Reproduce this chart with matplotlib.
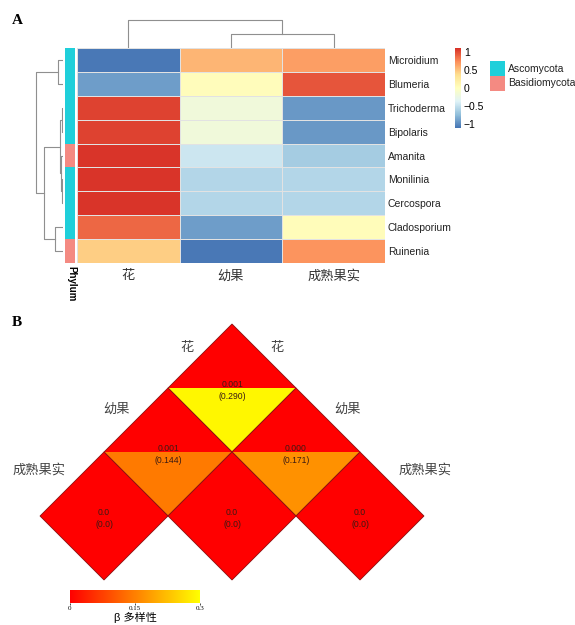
import numpy as np
import matplotlib
matplotlib.use('Agg')
import matplotlib.pyplot as plt
from matplotlib.colors import LinearSegmentedColormap, Normalize
from matplotlib.patches import Polygon, Rectangle
from matplotlib.cm import ScalarMappable

plt.rcParams['font.family'] = ['Liberation Sans', 'Noto Sans CJK SC', 'DejaVu Sans']

# ---- panel A data ----
taxa = ['Microidium', 'Blumeria', 'Trichoderma', 'Bipolaris', 'Amanita',
        'Monilinia', 'Cercospora', 'Cladosporium', 'Ruinenia']
stages = ['花', '幼果', '成熟果实']
phylum = ['Ascomycota', 'Ascomycota', 'Ascomycota', 'Ascomycota', 'Basidiomycota',
          'Ascomycota', 'Ascomycota', 'Ascomycota', 'Basidiomycota']
phylum_names = ['Ascomycota', 'Basidiomycota']
phylum_colors = ['#1FCFDA', '#F48A82']

values = np.array([
    [-1.08, 0.55, 0.66],
    [-0.90, 0.03, 0.95],
    [1.03, -0.18, -0.92],
    [1.03, -0.18, -0.92],
    [1.08, -0.46, -0.64],
    [1.08, -0.57, -0.57],
    [1.08, -0.57, -0.57],
    [0.88, -0.90, 0.04],
    [0.44, -1.08, 0.70],
])

# dendrogram merges: (left cluster, right cluster, height)
row_merges = [(2, 3, 1.0), (5, 6, 0.8), (4, 10, 1.6), (9, 11, 3.0),
              (0, 1, 5.0), (7, 8, 8.0), (12, 14, 19.0), (13, 15, 27.0)]
col_merges = [(1, 2, 14.0), (0, 3, 28.0)]

# ---- panel B data ----
group_names = ['花', '幼果', '成熟果实']
p_vals = [[0.001], [0.001, 0.000], [0.0, 0.0, 0.0]]
p_text = [['0.001'], ['0.001', '0.000'], ['0.0', '0.0', '0.0']]
beta_vals = [[0.290], [0.144, 0.171], [0.0, 0.0, 0.0]]
beta_text = [['(0.290)'], ['(0.144)', '(0.171)'], ['(0.0)', '(0.0)', '(0.0)']]

W, H = 575, 625
fig = plt.figure(figsize=(W / 100, H / 100), dpi=100)


def px_axes(l, t, r, b):
    return fig.add_axes([l / W, 1 - b / H, (r - l) / W, (b - t) / H])


def draw_dendro(ax, merges, n, orient):
    pos = {i: i + 0.5 for i in range(n)}
    hgt = {i: 0.0 for i in range(n)}
    for k, (a, b, h) in enumerate(merges):
        p = [pos[a], pos[a], pos[b], pos[b]]
        hh = [hgt[a], h, h, hgt[b]]
        if orient == 'top':
            ax.plot(p, hh, color='#8f8f8f', lw=0.8)
        else:
            ax.plot(hh, p, color='#8f8f8f', lw=0.8)
        pos[n + k] = (pos[a] + pos[b]) / 2
        hgt[n + k] = h
    ax.axis('off')


# heatmap
pal = ['#4575B4', '#91BFDB', '#E0F3F8', '#FFFFBF', '#FEE090', '#FC8D59', '#D73027']
cmap = LinearSegmentedColormap.from_list('rdylbu', pal)
norm = Normalize(-1.1, 1.1)

ax_h = px_axes(77, 48, 385, 263)
ax_h.pcolormesh(values, cmap=cmap, norm=norm, edgecolors='#e2e2e2', linewidth=0.4)
ax_h.set_xlim(0, 3)
ax_h.set_ylim(len(taxa), 0)
ax_h.set_xticks(np.arange(len(stages)) + 0.5)
ax_h.set_xticklabels(stages, fontsize=9.5, color='#333333')
ax_h.set_yticks(np.arange(len(taxa)) + 0.5)
ax_h.set_yticklabels(taxa, fontsize=7.5, color='#222222')
ax_h.yaxis.tick_right()
ax_h.tick_params(length=0, pad=2)
ax_h.tick_params(axis='x', pad=5)
for s in ax_h.spines.values():
    s.set_visible(False)

# phylum annotation bar
ax_a = px_axes(65, 48, 75, 263)
for i, ph in enumerate(phylum):
    ax_a.add_patch(Rectangle((0, i), 1, 1, facecolor=phylum_colors[phylum_names.index(ph)],
                             edgecolor='none'))
ax_a.set_xlim(0, 1)
ax_a.set_ylim(len(phylum), 0)
ax_a.axis('off')
fig.text(71 / W, 1 - 266 / H, 'Phylum', rotation=270, ha='center', va='top',
         fontsize=7, fontweight='bold')

# dendrograms
ax_rd = px_axes(33, 48, 63, 263)
draw_dendro(ax_rd, row_merges, len(taxa), 'left')
ax_rd.set_xlim(30, 0)
ax_rd.set_ylim(len(taxa), 0)

ax_cd = px_axes(77, 18, 385, 48)
draw_dendro(ax_cd, col_merges, len(stages), 'top')
ax_cd.set_xlim(0, 3)
ax_cd.set_ylim(0, 30)

# colour key
cax = px_axes(455, 48, 461, 128)
cb = fig.colorbar(ScalarMappable(norm=norm, cmap=cmap), cax=cax, ticks=[-1, -0.5, 0, 0.5, 1])
cb.ax.set_yticklabels(['\u22121', '\u22120.5', '0', '0.5', '1'])
cb.ax.tick_params(length=0, labelsize=7.5, pad=2)
cb.outline.set_visible(False)

# phylum legend
ax_l = px_axes(488, 58, 575, 95)
for i, (name, col) in enumerate(zip(phylum_names, phylum_colors)):
    ax_l.add_patch(Rectangle((2, 3 + i * 15), 15, 15, facecolor=col, edgecolor='none'))
    ax_l.text(20, 10.5 + i * 15, name, fontsize=7.5, va='center', ha='left', color='#222222')
ax_l.set_xlim(0, 87)
ax_l.set_ylim(37, 0)
ax_l.axis('off')

fig.text(12 / W, 1 - 20 / H, 'A', fontsize=11, fontweight='bold', family='Liberation Serif',
         va='center', ha='left')

# ---- panel B ----
bmap = LinearSegmentedColormap.from_list('ry', ['#FF0000', '#FFFF00'])
bnorm = Normalize(0, 0.3)

ax_b = px_axes(8, 320, 456, 592)
for r in range(len(group_names)):
    for k in range(r + 1):
        cx, cy = 2 * k - r, -r
        ax_b.add_patch(Polygon([(cx - 1, cy), (cx, cy + 1), (cx + 1, cy)], closed=True,
                               facecolor=bmap(bnorm(p_vals[r][k])), edgecolor='none'))
        ax_b.add_patch(Polygon([(cx - 1, cy), (cx + 1, cy), (cx, cy - 1)], closed=True,
                               facecolor=bmap(bnorm(beta_vals[r][k])), edgecolor='none'))
        ax_b.add_patch(Polygon([(cx - 1, cy), (cx, cy + 1), (cx + 1, cy), (cx, cy - 1)],
                               closed=True, facecolor='none', edgecolor='#8a1010', lw=0.6))
        ax_b.text(cx, cy + 0.06, p_text[r][k], ha='center', va='center', fontsize=6.2,
                  color='#3a1a14')
        ax_b.text(cx, cy - 0.13, beta_text[r][k], ha='center', va='center', fontsize=6.2,
                  color='#3a1a14')
    ax_b.text(-(r + 0.6), 0.63 - 0.96 * r, group_names[r], ha='right', va='center',
              fontsize=9.5, color='#444444')
    ax_b.text(r + 0.6, 0.63 - 0.96 * r, group_names[r], ha='left', va='center',
              fontsize=9.5, color='#444444')
ax_b.set_xlim(-3.5, 3.5)
ax_b.set_ylim(-3.1875, 1.0625)
ax_b.axis('off')

cbx = px_axes(70, 590, 200, 603)
cb2 = fig.colorbar(ScalarMappable(norm=bnorm, cmap=bmap), cax=cbx, orientation='horizontal',
                   ticks=[0, 0.15, 0.3])
cb2.ax.set_xticklabels(['0', '0.15', '0.3'], family='Liberation Serif')
cb2.ax.tick_params(length=1.5, labelsize=5, pad=1, width=0.5)
cb2.outline.set_visible(False)
cb2.set_label('β 多样性', fontsize=8, labelpad=0)

fig.text(12 / W, 1 - 322 / H, 'B', fontsize=11, fontweight='bold', family='Liberation Serif',
         va='center', ha='left')

fig.savefig('out.png', dpi=100)
